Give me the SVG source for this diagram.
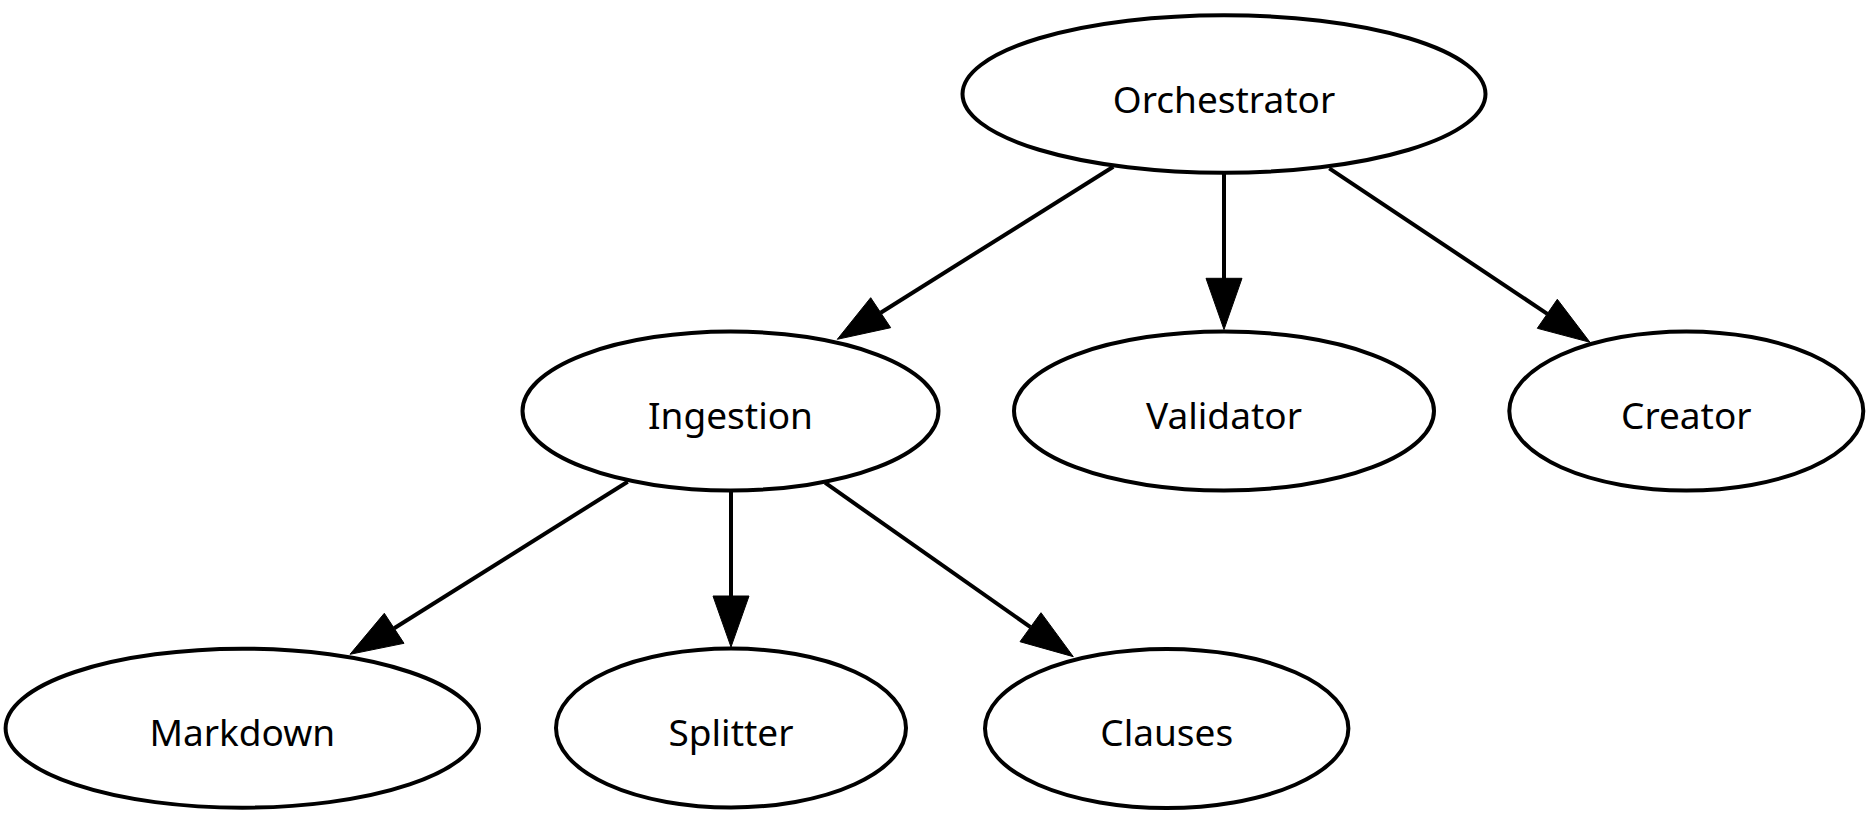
<svg xmlns="http://www.w3.org/2000/svg" width="1871" height="824" viewBox="0 0 1871 824">
<style>
.node ellipse{fill:#fff;stroke:#000;stroke-width:4}
.node text{font-family:"Noto Sans","DejaVu Sans",sans-serif;font-size:37px;fill:#000;text-anchor:middle}
.edge path{fill:none;stroke:#000;stroke-width:4}
.edge polygon{fill:#000;stroke:#000;stroke-width:1}
</style>
<rect width="1871" height="824" fill="#fff"/>
<g id="edges">
<g class="edge" id="e-orch-ing"><path d="M1113.3,166.7 L880.7,312.7"/><polygon points="870.7,297.7 890.7,327.7 837.3,339.3"/></g>
<g class="edge" id="e-orch-val"><path d="M1224,173 L1224,279"/><polygon points="1206,278.3 1242,278.3 1224,329.5"/></g>
<g class="edge" id="e-orch-cre"><path d="M1329.3,168.3 L1547.3,313.8"/><polygon points="1557.3,299.3 1537.3,328.3 1590,342.3"/></g>
<g class="edge" id="e-ing-md"><path d="M627.7,481.7 L394.2,628.3"/><polygon points="384.3,613.3 404,643.3 350,654.3"/></g>
<g class="edge" id="e-ing-spl"><path d="M731,490.5 L731,597"/><polygon points="713,596 749,596 731,647"/></g>
<g class="edge" id="e-ing-cla"><path d="M825,482.7 L1030.5,627.2"/><polygon points="1041,612.7 1020,641.7 1073.3,656.7"/></g>
</g>
<g class="node" id="orchestrator"><ellipse cx="1224" cy="94" rx="261.5" ry="78.8"/><text x="1224" y="112.5">Orchestrator</text></g>
<g class="node" id="ingestion"><ellipse cx="730.5" cy="411" rx="208" ry="79.5"/><text x="730.5" y="429">Ingestion</text></g>
<g class="node" id="validator"><ellipse cx="1224" cy="411" rx="210" ry="79.5"/><text x="1224" y="429">Validator</text></g>
<g class="node" id="creator"><ellipse cx="1686.3" cy="411" rx="177" ry="79.5"/><text x="1686.3" y="429">Creator</text></g>
<g class="node" id="markdown"><ellipse cx="242.3" cy="728.2" rx="236.7" ry="79.5"/><text x="242.3" y="746">Markdown</text></g>
<g class="node" id="splitter"><ellipse cx="731" cy="728" rx="175" ry="79.5"/><text x="731" y="746">Splitter</text></g>
<g class="node" id="clauses"><ellipse cx="1166.7" cy="728.5" rx="181.7" ry="79.5"/><text x="1166.7" y="746">Clauses</text></g>
</svg>
